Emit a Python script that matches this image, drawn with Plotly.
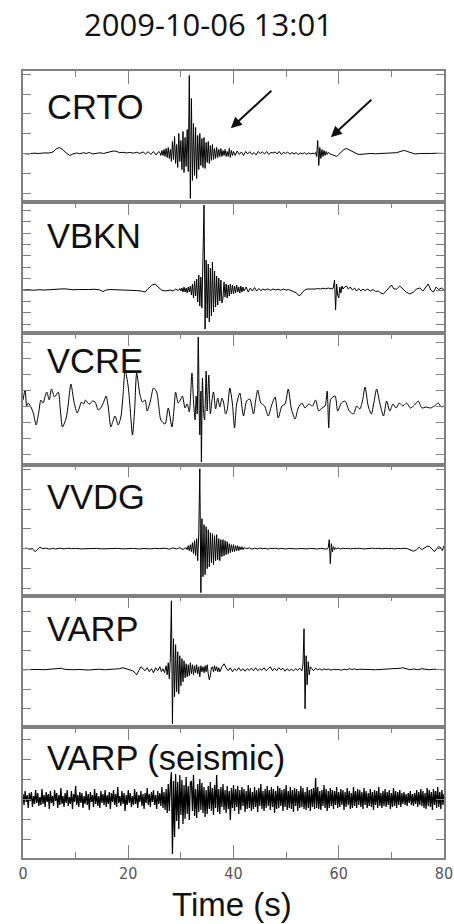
import plotly.graph_objects as go
from plotly.subplots import make_subplots

# ---------------------------------------------------------------------------
# Waveforms, 2009-10-06 13:01, amplitudes in arbitrary counts.
# Slow segments are (time [s], amplitude) pairs; bursts are sampled every
# DT_BURST seconds starting at the key time.
# ---------------------------------------------------------------------------
DT_BURST = 0.2
DT_SEIS = 0.2

CRTO_SLOW = [
    (0, 0), (1, -0.5), (2, 0.3), (3, 0), (4, 0.5), (5, 0.5), (5.7, 1.5), (6.3, 4.5),
    (6.9, 6), (7.5, 4), (8.2, 0.5), (8.9, -2), (9.5, -0.5), (10.2, 0.5), (10.8, -0.3),
    (11.5, 0.8), (12, 0), (12.6, 1), (13.3, -0.5), (14, 0.3), (14.6, 0.7), (15.3, 0),
    (16, 1), (16.6, 1.5), (17.2, 2.5), (17.8, 2), (18.4, 0.8), (19, 1.2), (19.6, 0.5),
    (20.3, 1), (21, 0.3), (21.6, 1.2), (22.2, 0), (22.8, 1.6), (23.3, -0.5), (23.8, 1.8),
    (24.3, -1), (24.8, 2), (25.3, -1.5), (25.8, 2),
    (40.3, -2), (40.7, 2.5), (41.1, -1), (41.5, 1.5), (41.9, -2), (42.3, 2), (42.7, -0.5),
    (43.1, 1.8), (43.5, -1), (43.9, 1), (44.3, -1.5), (44.7, 2), (45.1, 0), (45.5, 1.5),
    (45.9, -0.5), (46.3, 2), (46.7, -1), (47.1, 1), (47.5, 0.5), (47.9, 1.5), (48.3, -0.5),
    (48.7, 2), (49.1, -1), (49.5, 1.2), (49.9, 0), (50.3, 1.5), (50.7, -0.8), (51.1, 1),
    (51.5, -0.5), (51.9, 0.8), (52.3, -1), (52.7, 0.5), (53.1, -0.3), (53.5, 0.8),
    (53.9, -0.8), (54.3, 0.5), (54.7, -0.5), (55.1, 0.3), (55.4, -0.3),
    (58.4, -0.5), (58.8, -1.5), (59.2, -2), (59.6, -3), (60.0, -1), (60.5, 2), (61.0, 4),
    (61.5, 5), (62.0, 3.5), (62.5, 2), (63.0, 0.5), (63.5, -0.5), (64.0, -1), (65, -0.5),
    (66, 0), (67, -0.3), (68, 0), (69, 0.3), (70, 0), (71, 0.8), (72, 2.5), (72.5, 3),
    (73, 2), (73.7, 0.5), (74.5, -0.5), (75.5, 0), (76.5, -0.3), (77.5, 0), (78.5, 0.2),
    (79.5, 0), (80, 0),
]
CRTO_BURSTS = {
    26.0: [1, -2, 3, -2, 4, -3, 5, -4, 6, -5,
           4, -8, 12, -6, 17, -10, 9, -14, 20, -8,
           13, -16, 22, -19, 16, -13, 24, -18, 78, -45,
           55, -27, 30, -22, 26, -25, 18, -16, 20, -12,
           15, -14, 16, -15, 11, -9, 12, -10, 8, -7,
           9, -6, 5, -5, 6, -4, 4, -3, 5, -3,
           3, -2, 4, -3, 2, -3, 5, -4, 3, -2,
           2],
    55.6: [1, -3, 13, -12, 6, -5, 4, -3, 3, -2, 2, -1, 1],
}

VBKN_SLOW = [
    (0, 0), (1, 0.3), (2, -0.2), (3, 0.3), (4, 0), (5, 0.5), (6, 0.3), (7, 1), (8, 1.2),
    (8.5, 0.8), (9.5, 0.3), (10.5, 0.5), (11.5, 0.2), (12.5, 0.5), (13.5, 0.8), (14.5, 0.3),
    (15.2, -1.5), (15.8, 0), (16.5, 0.5), (17.5, 0.3), (18.5, 0.5), (19.5, 0.2), (20.5, 0.3),
    (21.5, -0.5), (22.5, -1), (23.2, -2), (23.8, 1.5), (24.5, 5), (25.1, 6), (25.7, 3),
    (26.3, 0), (27, -1), (27.5, -0.5), (28, 0), (28.5, -1), (29, 1), (29.5, -0.5), (29.8, 1.5),
    (42.4, 3), (42.8, -2), (43.2, 2), (43.6, -1), (44.0, 2.5), (44.4, -1), (44.8, 1.5),
    (45.2, -0.5), (45.6, 1), (46.0, 0), (46.5, 1.2), (47.0, -0.3), (47.5, 1), (48.0, 0.2),
    (48.5, 0.8), (49.0, -0.2), (49.5, 1), (50.0, 0), (50.5, 0.5), (51.0, -0.5), (51.5, -1.5),
    (52.0, -3), (52.5, -6), (53.0, -3), (53.5, 0), (54.0, 1), (54.5, 0.8), (55.0, 1.2),
    (55.5, 1), (56.0, 1.5), (56.5, 1), (57.0, 1.8), (57.5, 1.2), (58.0, 2), (58.5, 1.5),
    (58.8, 1),
    (60.8, 1), (61.1, 3), (61.5, 4), (61.8, 1), (62.2, 3), (62.6, 0), (63, 2), (63.4, -1),
    (63.8, 1.5), (64.2, -1), (64.6, 1), (65, -0.5), (65.5, 1), (66, -1), (66.5, 0.5),
    (67, -1.5), (67.5, -1), (68, -3), (68.5, -4), (69, -1), (69.5, 2), (70, 5), (70.5, 1),
    (71, 1), (71.6, 4), (72.2, 1), (72.8, -2), (73.5, -4), (74.2, -2), (74.8, 1), (75.4, 2),
    (76, -1), (76.5, 2), (77, 6), (77.5, 0), (78, -2), (78.5, 3), (79, 0.5), (79.5, 2),
    (80, 0),
]
VBKN_BURSTS = {
    30.0: [-1, 2, -2, 3, -2, 2, -3, 3, -2, 4,
           -5, 6, -8, 9, -6, 11, -12, 15, -16, 13,
           -18, 22, 85, -39, 30, -28, 26, -32, 22, -26,
           28, -22, 19, -17, 14, -15, 12, -11, 10, -13,
           -8, 8, -7, 6, -8, 5, -6, 6, -4, 5,
           -4, 4, -3, 5, -2, 3, -3, 4, -2, 3,
           -1],
    59.0: [3, 10, -20, 6, -5, -8, 3, -3, 4],
}

VCRE_SLOW = [
    (0, 6), (0.4, 16), (0.7, 0), (1.0, 3), (1.6, -2), (2.0, -8), (2.5, -19), (3.0, -6),
    (3.4, 6), (3.8, 3), (4.5, 14), (5.0, 6), (5.4, 17), (6.0, 9), (6.7, 14), (7.1, -4),
    (7.5, -21), (8.2, -12), (8.6, 2), (9.1, 22), (9.7, 4), (10.3, -7), (10.7, -2),
    (11.1, 4), (11.5, 2), (11.9, 6), (12.3, 3), (12.7, 2), (13.2, 5), (13.7, 4),
    (14.3, -4), (14.9, -1), (15.4, 5), (15.8, 10), (16.2, -1), (16.7, -21), (17.1, -15),
    (17.5, -10), (18.1, -19), (18.6, -11), (19.0, 10), (19.4, 36), (20.0, 19), (20.4, -5),
    (20.8, -29), (21.2, -5), (21.6, 33), (22.2, 12), (22.7, 4), (23.2, 6), (23.6, -5),
    (24.2, 5), (24.8, 18), (25.4, 14), (25.8, 0), (26.2, -14), (27.0, -18), (27.6, -2),
    (28.3, -21), (28.7, -3), (29.0, 14), (29.5, 3), (30.0, 7), (30.3, 10), (30.8, -2),
    (31.2, 2), (31.6, -6), (32.1, 33), (32.4, 5), (32.7, -14), (32.9, 10), (33.1, -8),
    (33.3, 69), (33.5, -10), (33.6, -29), (33.8, 15), (33.9, -56), (34.1, 28), (34.3, -5),
    (34.5, -14), (34.8, 35), (35.0, -5), (35.3, 31), (35.6, -8), (35.9, 5), (36.2, 14),
    (36.6, -3), (37.0, 8), (37.4, -1), (37.8, 8), (38.1, 4), (38.5, -8), (38.8, -4),
    (39.3, 18), (39.8, 2), (40.2, -22), (40.6, 2), (41.2, 13), (41.9, -10), (42.5, 5),
    (43.1, 7), (43.8, -8), (44.2, 5), (44.6, 16), (45.2, 3), (45.9, 0), (46.6, -10),
    (47.2, 0), (47.9, 9), (48.5, -12), (49.2, 0), (49.8, 2), (50.4, 17), (51.0, -3),
    (51.7, -13), (52.3, -2), (53.0, 3), (53.6, -2), (54.3, 2), (55.0, 0), (55.6, 6),
    (56.2, -5), (56.8, -2), (57.4, 0), (57.8, 15), (58.1, -22), (58.5, 7), (59.3, 10),
    (59.8, -5), (60.5, 3), (61.2, 5), (62.0, -5), (62.8, -8), (63.4, 0), (64.0, -3),
    (64.5, 5), (65.0, 19), (65.6, 0), (66.2, -8), (66.7, 4), (67.2, 17), (67.8, 3),
    (68.5, -10), (69.1, 5), (69.7, -5), (70.3, 2), (70.9, -2), (71.5, 3), (72.2, 0),
    (72.9, 3), (73.6, -2), (74.4, 1), (75.1, 5), (75.8, -2), (76.6, -1), (77.4, -2),
    (78.2, 0), (78.9, 3), (79.5, -1), (80.0, 0),
]
VCRE_BURSTS = {}

VVDG_SLOW = [
    (0, 0), (0.6, 0.5), (1.2, -0.5), (1.8, 0), (2.3, -3), (2.8, -1), (3.2, 1.5), (3.7, 0),
    (4.3, 0.5), (5, -0.5), (5.6, 0.3), (6.2, -0.3), (7, 0.5), (7.8, -0.2), (8.5, 0.5),
    (9.2, 0), (10, 0.3), (11, -0.2), (12, 0.2), (13, 0), (14, 0.3), (15, -0.2), (16, 0.2),
    (17, 0), (18, 0.3), (19, -0.2), (20, 0), (21, 0.3), (22, -0.3), (23, 0.2), (24, -0.2),
    (25, 0.3), (26, 0), (27, 0.5), (27.8, -0.5), (28.5, 0.8), (29.2, -0.3), (29.8, 1),
    (30.4, -0.8), (31, 1),
    (42.5, 0), (43, 0.8), (43.5, -0.5), (44, 0.5), (44.5, -0.3), (45, 0.6), (45.5, 0),
    (46, 0.4), (46.5, -0.4), (47, 0.3), (47.5, 0), (48, 0.5), (48.5, -0.3), (49, 0.3),
    (49.5, 0), (50, -0.3), (50.5, 0.3), (51, 0), (51.5, 0.4), (52, -0.3), (52.5, 0.2),
    (53, 0), (53.5, 0.3), (54, -0.2), (54.5, 0.3), (55, 0), (55.5, 0.3), (56, -0.3),
    (56.5, 0.3), (57, 0), (57.5, 0.3), (57.8, -0.5),
    (59.2, -1), (59.4, 1), (59.6, -0.5), (59.8, 0.8), (60.3, -0.3), (60.8, 0.5), (61.3, 0),
    (61.8, 0.4), (62.3, -0.2), (62.8, 0.3), (63.4, 0), (64, 0.5), (64.6, -0.3), (65.2, 0.2),
    (65.8, 0), (66.4, 0.5), (67, 0), (67.6, 0.4), (68.2, -0.2), (68.8, 0.3), (69.4, 0),
    (70, 0.3), (70.6, -0.3), (71.2, 0.3), (71.8, 0), (72.4, 0.5), (73, 0), (73.6, -1),
    (74.2, -2.5), (74.8, -1), (75.3, 1.5), (75.8, -1), (76.3, 1), (76.8, 2.5), (77.3, 2),
    (77.8, -1), (78.2, -3), (78.6, 0), (79, 2), (79.4, 1), (79.7, -2), (80, 3),
]
VVDG_BURSTS = {
    31.2: [-1, 3, -2, 4, -3, 6, -5, 8, -7, 10,
           -12, 15, 80, -44, 30, -28, 24, -26, 22, -20,
           19, -18, 16, -14, 15, -16, 13, -12, 14, -11,
           10, -12, 9, -8, 9, -7, 8, -6, 7, -5,
           5, -4, 4, -3, 4, -3, 3, -2, 3, -2,
           2, -1, 2, -1, 1],
    58.0: [1, 9, -15, 5, -3, 2],
}

VARP_SLOW = [
    (0, 0), (1, 0.2), (2, -0.2), (3, 0.3), (4, 0), (5, 0.3), (6, 0.5), (6.8, 1), (7.3, 1.5),
    (7.8, 0.5), (8.5, 0.2), (9.5, 0), (10.5, 0.3), (11.5, 0), (12.5, -0.3), (13.5, 0.2),
    (14.5, 0.5), (15.5, 0), (16.5, 0.3), (17.5, 0.5), (18.3, 1), (19, 2), (19.6, 1),
    (20.2, 0), (20.8, -1), (21.3, -3), (21.6, -5), (22, -1), (22.4, 3), (22.8, 1),
    (23.2, -1), (23.6, 2), (24, -2), (24.4, 1), (24.8, -3), (25.2, 2), (25.6, -1), (26, 3),
    (26.3, -2), (26.6, 1), (26.9, -3), (27.2, 4),
    (37.4, -2), (37.8, 3), (38.2, 6), (38.6, 2), (39, -1), (39.4, 2), (39.8, -2), (40.2, 1),
    (40.6, -1), (41, 2), (41.4, -1), (41.8, 1), (42.2, -1.5), (42.6, 1), (43, -0.5),
    (43.4, 1.5), (43.8, -1), (44.2, 2), (44.6, -1), (45, 1), (45.4, -0.5), (45.8, 2),
    (46.2, -1), (46.6, 1), (47, 3), (47.4, -1), (47.8, 1.5), (48.2, -1), (48.6, 2), (49, 0),
    (49.4, 1.5), (49.8, -1.5), (50.2, 1), (50.6, -1), (51, 0.5), (51.4, -1), (51.8, 1),
    (52.2, -0.5), (52.6, 1.5), (53.0, -1),
    (54.8, 1.5), (55.2, -1), (55.6, 1.5), (56, 0), (56.4, 1), (56.8, -0.5), (57.2, 1),
    (57.6, 0), (58, 0.8), (58.5, -0.5), (59, 0.5), (59.5, 0), (60, 0.3), (60.5, -0.5),
    (61, 0.5), (61.5, 0), (62, 1), (62.5, 0.3), (63, 0.8), (63.5, 0), (64, 0.5), (65, 0),
    (66, 0.2), (67, 0), (68, 0.3), (69, 0), (70, 0.5), (71, 0.8), (71.7, 1.5), (72.2, 2),
    (72.8, 1), (73.5, 0), (74.2, 0.8), (75, 0), (75.8, 1), (76.5, 0.3), (77.2, 0),
    (78, 0.5), (79, 0), (80, 0),
]
VARP_BURSTS = {
    27.4: [-5, 7, -9, 12, 69, -54, 31, -27, 25, -22,
           18, -24, 14, -16, 11, -12, 9, -8, 6, -7,
           5, -6, 7, -4, 5, -5, 4, -3, 5, -4,
           3, -7, 4, -2, 3, -3, 4, -2, 5, -4,
           -10, -6, 2, 3, -2, 4, -1, 3, -2, 2],
    53.2: [5, 41, -39, 14, -15, 8, -5, 3],
}

# VARP seismometer channel, one value every DT_SEIS seconds from t = 0
VARP_SEIS = [
    5, -6, 8, -3, 4, -9, 6, -2, 7, -8, 3, -5, 9, -4, 6, -7, 2, -6, 10, -5,
    4, -8, 7, -3, 5, -10, 8, -4, 3, -7, 9, -2, 6, -9, 4, -6, 11, -5, 3, -8,
    6, -4, 9, -7, 2, -5, 8, -10, 5, -3, 13, -6, 4, -8, 7, -4, 6, -9, 3, -5,
    8, -6, 5, -11, 7, -3, 4, -8, 10, -5, 6, -7, 3, -9, 8, -4, 5, -6, 9, -8,
    4, -5, 7, -10, 6, -3, 9, -6, 5, -8, 12, -4, 3, -7, 8, -5, 6, -12, 4, -6,
    9, -4, 6, -8, 3, -6, 10, -5, 7, -9, 4, -3, 8, -7, 5, -10, 6, -4, 11, -6,
    5, -8, 7, -3, 9, -6, 4, -10, 8, -5, 6, -7, 12, -9, 7, -11, 10, -14, 15, -12,
    14, 27, -55, 18, -38, 25, -22, 17, -30, 24, -16, 19, -25, 14, -20, 22, -15, 13, -21, 16,
    18, -12, 24, -17, 10, -19, 15, -13, 20, -11, 16, -14, 12, -18, 9, -15, 13, -10, 17, -12,
    11, -16, 14, -9, 24, -13, 10, -15, 12, -8, 15, -11, 9, -14, 13, -10, 8, -21, 11, -9,
    14, -12, 10, -8, 13, -15, 9, -11, 12, -7, 10, -13, 8, -10, 14, -9, 11, -12, 7, -10,
    12, -8, 9, -13, 11, -7, 15, -10, 8, -12, 10, -9, 13, -7, 9, -11, 12, -8, 10, -14,
    8, -10, 13, -9, 11, -7, 9, -12, 10, -8, 14, -11, 8, -9, 12, -10, 9, -13, 11, -7,
    10, -12, 8, -9, 13, -8, 11, -10, 7, -11, 12, -9, 9, -12, 10, -8, 11, -10, 21, -9,
    12, -10, 8, -11, 9, -7, 14, -9, 10, -12, 8, -9, 11, -7, 9, -10, 8, -6, 12, -9,
    7, -8, 10, -6, 9, -11, 7, -8, 11, -6, 8, -10, 6, -9, 12, -7, 8, -9, 10, -6,
    9, -8, 7, -10, 11, -6, 8, -9, 6, -7, 10, -8, 7, -11, 9, -6, 8, -9, 12, -7,
    6, -9, 8, -7, 10, -8, 7, -6, 9, -10, 6, -8, 11, -7, 8, -9, 7, -6, 9, -8,
    6, -5, 7, -6, 5, -7, 6, -4, 8, -6, 5, -7, 6, -5, 9, -8, 7, -6, 10, -7,
    8, -9, 6, -10, 11, -7, 9, -8, 7, -11, 10, -6, 8, -9, 12, -8, 7, -10, 9, -6,
    5,
]

STATIONS = ["CRTO", "VBKN", "VCRE", "VVDG", "VARP", "VARP (seismic)"]
TIME_TICKS = [0, 20, 40, 60, 80]


def assemble(slow, bursts):
    pts = list(slow)
    for t0, vals in bursts.items():
        pts += [(round(t0 + i * DT_BURST, 3), v) for i, v in enumerate(vals)]
    pts.sort(key=lambda p: p[0])
    return [p[0] for p in pts], [p[1] for p in pts]


series = [
    assemble(CRTO_SLOW, CRTO_BURSTS),
    assemble(VBKN_SLOW, VBKN_BURSTS),
    assemble(VCRE_SLOW, VCRE_BURSTS),
    assemble(VVDG_SLOW, VVDG_BURSTS),
    assemble(VARP_SLOW, VARP_BURSTS),
    ([round(i * DT_SEIS, 2) for i in range(len(VARP_SEIS))], VARP_SEIS),
]
line_shapes = ["linear", "linear", "spline", "linear", "linear", "linear"]
line_widths = [1, 1, 1, 1, 1, 1.25]

# vertical window (counts) and tick spacing of each panel
Y_WINDOWS = [(-48.7, 82.5), (-43.3, 87.9), (-58.5, 72.7),
             (-47.0, 84.2), (-57.1, 74.1), (-59.0, 72.2)]
Y_DTICKS = [19.8, 11.4, 16, 19.8, 19.3, 20]

W, H = 454, 924
ML, MR, MT, MB = 23, 10, 71, 66
AXIS_GREY = "#808080"


def paper_x(px):
    return (px - ML) / (W - ML - MR)


def paper_y(py):
    return (H - MB - py) / (H - MT - MB)


fig = make_subplots(rows=6, cols=1, shared_xaxes=True, vertical_spacing=0)

for i, (t, v) in enumerate(series):
    fig.add_trace(
        go.Scatter(x=t, y=v, mode="lines",
                   line=dict(color="black", width=line_widths[i],
                             shape=line_shapes[i], smoothing=0.7),
                   hoverinfo="skip", showlegend=False),
        row=i + 1, col=1,
    )
    lo, hi = Y_WINDOWS[i]
    fig.update_yaxes(
        range=[lo, hi], tick0=0, dtick=Y_DTICKS[i], ticks="inside", ticklen=8,
        tickcolor=AXIS_GREY, tickwidth=1, showticklabels=False, showgrid=False,
        zeroline=False, showline=True, linecolor=AXIS_GREY, linewidth=1.5,
        mirror="ticks", automargin=False, row=i + 1, col=1,
    )
    last = i == 5
    fig.update_xaxes(
        range=[0, 80], tickvals=TIME_TICKS, ticks="inside", ticklen=13,
        tickcolor=AXIS_GREY, tickwidth=1,
        minor=dict(dtick=10, tick0=0, ticks="inside", ticklen=6,
                   tickcolor=AXIS_GREY, tickwidth=1, showgrid=False),
        showgrid=False, zeroline=False, showline=True, linecolor=AXIS_GREY,
        linewidth=1.5, side="bottom" if last else "top",
        mirror="ticks" if last else True, showticklabels=last, automargin=False,
        tickfont=dict(family="Liberation Sans Narrow, DejaVu Sans Condensed, sans-serif",
                      size=16, color="#555555"),
        row=i + 1, col=1,
    )

annotations = [
    dict(text="2009-10-06 13:01", xref="paper", yref="paper",
         x=paper_x(208.5), y=paper_y(24), xanchor="center", yanchor="middle",
         showarrow=False, font=dict(family="Open Sans", size=31, color="#111111")),
    dict(text="Time (s)", xref="paper", yref="paper",
         x=paper_x(232), y=paper_y(904), xanchor="center", yanchor="middle",
         showarrow=False, font=dict(family="Liberation Sans", size=33, color="#111111")),
]

label_centres = [106.5, 235.5, 360.5, 497.5, 628.5, 757.5]
for name, cy in zip(STATIONS, label_centres):
    annotations.append(dict(
        text=name, xref="paper", yref="paper", x=paper_x(45), y=paper_y(cy),
        xanchor="left", yanchor="middle", showarrow=False,
        font=dict(family="Liberation Sans", size=34.5, color="#111111"),
    ))

# arrows marking the two CRTO arrivals
for tx, ty in [(39.5, 25.2), (58.5, 16.2)]:
    annotations.append(dict(
        text="", x=tx, y=ty, xref="x", yref="y", ax=42, ay=-39,
        showarrow=True, arrowhead=2, arrowsize=1.1, arrowwidth=2,
        arrowcolor="#111111", standoff=0,
    ))

fig.update_layout(
    width=W, height=H, margin=dict(l=ML, r=MR, t=MT, b=MB, autoexpand=False),
    paper_bgcolor="white", plot_bgcolor="white",
    annotations=annotations, showlegend=False,
)

fig.write_html("out.html")
